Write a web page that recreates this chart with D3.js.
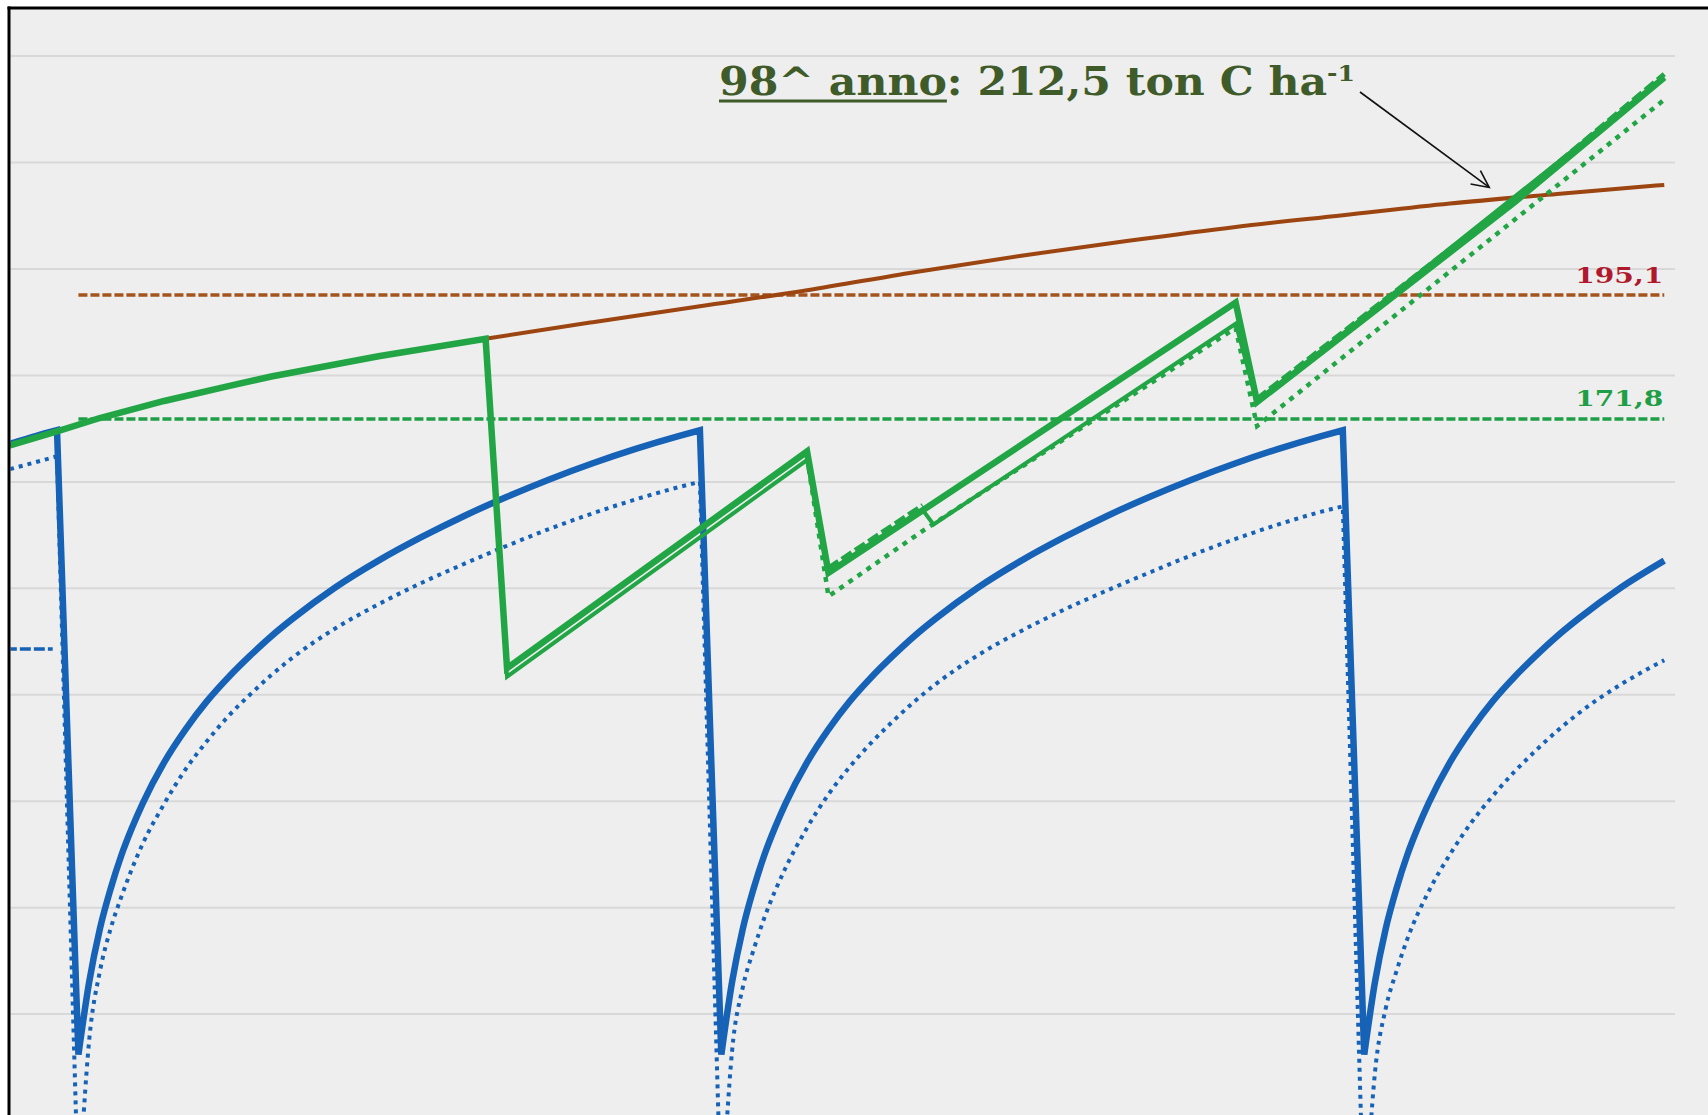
<!DOCTYPE html>
<html>
<head>
<meta charset="utf-8">
<script src="https://cdn.jsdelivr.net/npm/d3@7"></script>
<style>
  html, body { margin: 0; padding: 0; background: #ffffff; }
  svg { display: block; }
</style>
</head>
<body>
<svg id="chart" width="1708" height="1115"></svg>
<script>
// ---------- data: carbon stock (ton C / ha) by year ----------
const gridValues = [60, 80, 100, 120, 140, 160, 180, 200, 220, 240];

// undisturbed growth curve
const brownYears  = [27, 28, 30, 32, 35, 38, 40, 45, 50, 55, 60, 65, 70, 75, 80, 85, 90, 95, 100, 105];
const brownValues = [165.8, 167.1, 169.5, 172.0, 175.2, 178.0, 179.8, 183.6, 186.9, 190.0, 193.0, 196.0, 199.4, 202.5, 205.3, 207.9, 210.1, 212.3, 214.1, 215.8];

// coppice rotation, solid
const blueSolidYears = [
  27, 28, 29, 30,
  31, 31.5, 32, 32.5, 33, 33.5, 34, 35, 36, 37, 38, 39, 40, 41, 43, 45, 47, 49, 51, 53, 55, 57, 59, 60,
  61, 61.5, 62, 62.5, 63, 63.5, 64, 65, 66, 67, 68, 69, 70, 71, 73, 75, 77, 79, 81, 83, 85, 87, 89, 90,
  91, 91.5, 92, 92.5, 93, 93.5, 94, 95, 96, 97, 98, 99, 100, 101, 103, 105
];
const blueSolidValues = [
  166.2, 167.4, 168.6, 169.7,
  52.4, 66, 76, 83.5, 89.8, 95, 99.6, 107.3, 113.5, 118.8, 123.3, 127.3, 131, 134.3, 140.2, 145.2, 149.6, 153.6, 157.2, 160.5, 163.5, 166.2, 168.6, 169.7,
  52.4, 66, 76, 83.5, 89.8, 95, 99.6, 107.3, 113.5, 118.8, 123.3, 127.3, 131, 134.3, 140.2, 145.2, 149.6, 153.6, 157.2, 160.5, 163.5, 166.2, 168.6, 169.7,
  52.4, 66, 76, 83.5, 89.8, 95, 99.6, 107.3, 113.5, 118.8, 123.3, 127.3, 131, 134.3, 140.2, 145.2
];

// coppice rotation, dotted
const blueDotYears = [
  27, 28, 29, 30,
  31, 31.5, 32, 32.5, 33, 34, 35, 36, 37, 38, 39, 40, 41, 43, 45, 47, 49, 51, 53, 55, 57, 59, 60,
  61, 61.5, 62, 62.5, 63, 64, 65, 66, 67, 68, 69, 70, 71, 73, 75, 77, 79, 81, 83, 85, 87, 89, 90,
  91, 91.5, 92, 92.5, 93, 94, 95, 96, 97, 98, 99, 100, 101, 103, 105
];
const blueDotValues = [
  161.5, 162.6, 163.7, 164.8,
  25, 55, 68, 76, 82, 92, 99.5, 106, 111.3, 116, 120, 123.7, 127, 132.5, 137, 141, 144.6, 148, 151.2, 154.1, 156.7, 159, 160,
  22, 53, 65, 72, 78, 87.5, 95, 101.3, 106.5, 111, 115, 118.7, 122, 127.5, 132, 136, 139.6, 143, 146.3, 149.3, 152, 154.4, 155.4,
  20, 49, 61, 68, 74, 83, 90, 96, 101, 105.5, 109.5, 113.2, 116.5, 122, 126.5
];

// high forest with thinnings
const greenSolidYears  = [27, 28, 30, 32, 35, 38, 40, 45, 50, 51, 65, 66, 85, 86, 98, 105];
const greenSolidValues = [165.8, 167.1, 169.5, 172.0, 175.2, 178.0, 179.8, 183.6, 186.9, 125.0, 165.7, 142.9, 193.7, 175.0, 212.5, 236.0];

const greenThinYears  = [50, 51, 65, 66, 70.4, 70.9, 85, 86, 105];
const greenThinValues = [186.9, 123.4, 164.1, 142.9, 154.7, 152.0, 189.7, 175.0, 236.0];

const greenDashYears  = [66, 70.4, 78, 86, 98, 105];
const greenDashValues = [143.8, 155.6, null, 175.6, 213.1, 236.6];

const greenDotYears  = [65, 66, 70.4, 85, 86, 105];
const greenDotValues = [164.6, 138.5, 150.8, 188.9, 170.5, 231.8];

// mean levels
const refValues = [195.1, 171.8];
const refSpan   = [31, 105];
const blueRefValue = 128.6;
const blueRefSpan  = [25, 29.8];

// highlighted point
const markYear  = 98;
const markValue = 212.5;

// ---------- drawing ----------
const W = 1708, H = 1115;
const frameLeft = 9, frameTop = 8, gridEnd = 1675;

const svg = d3.select("#chart");
const x = d3.scaleLinear().domain([30, 90]).range([57, 1342.8]);
const y = d3.scaleLinear().domain([60, 240]).range([1014.1, 56.1]);
const fmt = v => d3.format(".1f")(v).replace(".", ",");
const pairs = (ys, vs) => ys.map((t, i) => [t, vs[i]]);

const C = {
  bg: "#eeeeee", grid: "#d8d8d8",
  blue: "#1662b6", green: "#22a545", brown: "#9c4511",
  brownRef: "#a4531c", greenRef: "#1f9f45",
  red: "#b0192c", annot: "#3f5b29"
};

svg.append("rect").attr("x", frameLeft).attr("y", frameTop)
  .attr("width", W - frameLeft).attr("height", H - frameTop).attr("fill", C.bg);

svg.append("defs").append("clipPath").attr("id", "plot")
  .append("rect").attr("x", frameLeft + 1.5).attr("y", frameTop + 1.5).attr("width", W).attr("height", H);

// horizontal grid
svg.append("g").selectAll("line").data(gridValues).join("line")
  .attr("x1", frameLeft + 1.5).attr("x2", gridEnd)
  .attr("y1", d => y(d)).attr("y2", d => y(d))
  .attr("stroke", C.grid).attr("stroke-width", 2);

const plot = svg.append("g").attr("clip-path", "url(#plot)");
const line = d3.line().defined(d => d[1] != null).x(d => x(d[0])).y(d => y(d[1]));
const smooth = d3.line().curve(d3.curveMonotoneX).x(d => x(d[0])).y(d => y(d[1]));

// growth phases are smoothed; each harvest drop stays a straight cut
function sawtooth(data) {
  const runs = [];
  let cur = [data[0]];
  for (let i = 1; i < data.length; i++) {
    if (data[i][1] < data[i - 1][1]) { runs.push(cur); cur = []; }
    cur.push(data[i]);
  }
  runs.push(cur);
  return runs.map((r, i) => (i ? "L" + smooth(r).slice(1) : smooth(r))).join("");
}

function style(sel, color, width, dash) {
  return sel.attr("fill", "none")
    .attr("stroke", color)
    .attr("stroke-width", width)
    .attr("stroke-dasharray", dash || null)
    .attr("stroke-linejoin", "miter")
    .attr("stroke-miterlimit", 3);
}
function draw(data, color, width, dash) {
  return style(plot.append("path").datum(data).attr("d", line), color, width, dash);
}
function drawSaw(data, color, width, dash) {
  return style(plot.append("path").attr("d", sawtooth(data)), color, width, dash);
}

// mean levels
draw([[refSpan[0], refValues[0]], [refSpan[1], refValues[0]]], C.brownRef, 3.5, "9,3");
draw([[refSpan[0], refValues[1]], [refSpan[1], refValues[1]]], C.greenRef, 3.5, "9,3");
draw([[blueRefSpan[0], blueRefValue], [blueRefSpan[1], blueRefValue]], C.blue, 3.5, "11,3");

// growth curve
style(plot.append("path").attr("d", smooth(pairs(brownYears, brownValues))), C.brown, 4);

// coppice
drawSaw(pairs(blueDotYears, blueDotValues), C.blue, 4, "4,5");
drawSaw(pairs(blueSolidYears, blueSolidValues), C.blue, 6.5);

// high forest
draw(pairs(greenDotYears, greenDotValues), C.green, 4.5, "5,6");
draw(pairs(greenThinYears, greenThinValues), C.green, 4);
draw(pairs(greenSolidYears, greenSolidValues), C.green, 6.5);
draw(pairs(greenDashYears, greenDashValues), C.green, 5, "12,4");

// mean level labels
const labelColors = [C.red, C.greenRef];
svg.append("g").selectAll("text").data(refValues).join("text")
  .attr("x", x(refSpan[1]) - 1)
  .attr("y", (d, i) => y(d) - (i === 0 ? 12 : 13))
  .attr("text-anchor", "end")
  .attr("font-family", "DejaVu Serif")
  .attr("font-weight", "bold")
  .attr("font-size", 22)
  .attr("textLength", 88)
  .attr("lengthAdjust", "spacingAndGlyphs")
  .attr("fill", (d, i) => labelColors[i])
  .text(d => fmt(d));

// frame
svg.append("line").attr("x1", frameLeft).attr("x2", frameLeft).attr("y1", frameTop - 1.5).attr("y2", H)
  .attr("stroke", "#000").attr("stroke-width", 3);
svg.append("line").attr("x1", frameLeft - 1.5).attr("x2", W).attr("y1", frameTop).attr("y2", frameTop)
  .attr("stroke", "#000").attr("stroke-width", 3);

// annotation
const lead = `${markYear}^ anno`;
const ann = svg.append("text")
  .attr("x", 719).attr("y", 95)
  .attr("font-family", "DejaVu Serif")
  .attr("font-weight", "bold")
  .attr("font-size", 39)
  .attr("fill", C.annot)
  .attr("textLength", 636)
  .attr("lengthAdjust", "spacingAndGlyphs");
ann.append("tspan").text(lead);
ann.append("tspan").text(`: ${fmt(markValue)} ton C ha`);
ann.append("tspan").attr("font-size", 23).attr("dy", -14).text("-1");

const annNode = ann.node();
const u0 = annNode.getStartPositionOfChar(0).x;
const u1 = annNode.getEndPositionOfChar(lead.length - 1).x;
svg.append("line").attr("x1", u0).attr("x2", u1).attr("y1", 101).attr("y2", 101)
  .attr("stroke", C.annot).attr("stroke-width", 3);

// arrow to the highlighted point
const tip = [x(markYear) - 25, y(markValue) - 15];
const tail = [1360, 92];
const ang = Math.atan2(tip[1] - tail[1], tip[0] - tail[0]);
const head = 19, spread = 0.45;
const arrow = svg.append("g").attr("stroke", "#111").attr("stroke-width", 1.6).attr("fill", "none");
arrow.append("line").attr("x1", tail[0]).attr("y1", tail[1]).attr("x2", tip[0]).attr("y2", tip[1]);
arrow.append("path").attr("d", d3.line()([
  [tip[0] - head * Math.cos(ang - spread), tip[1] - head * Math.sin(ang - spread)],
  tip,
  [tip[0] - head * Math.cos(ang + spread), tip[1] - head * Math.sin(ang + spread)]
]));
</script>
</body>
</html>
